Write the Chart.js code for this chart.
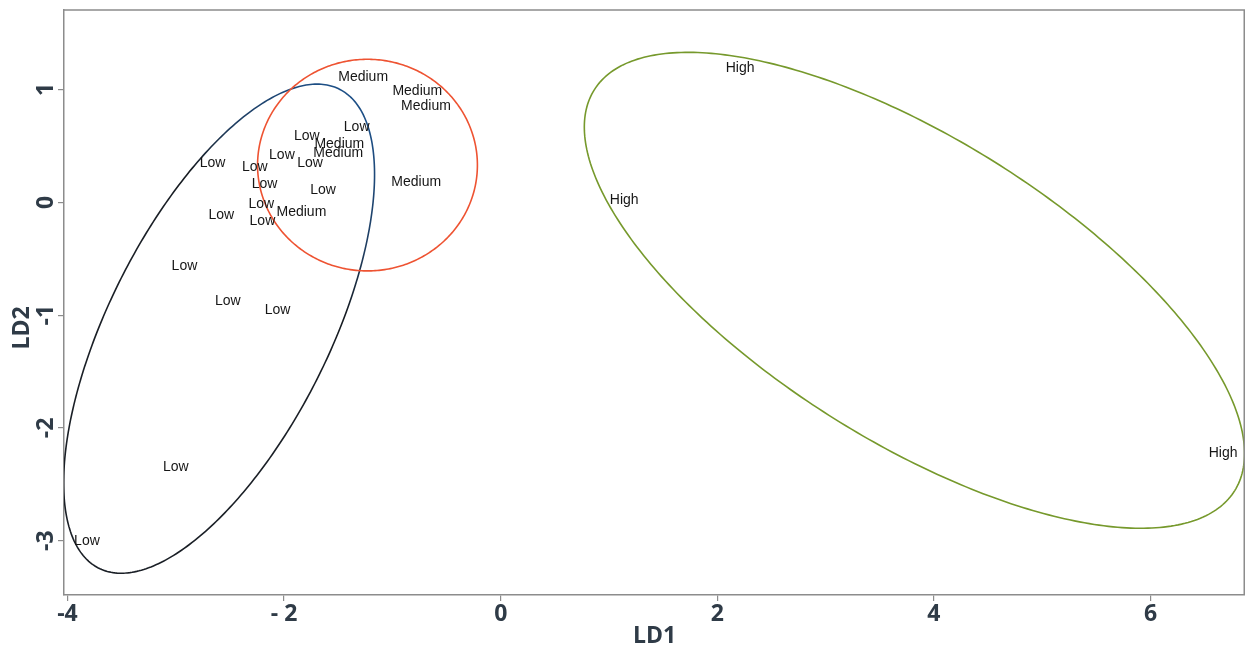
<!DOCTYPE html>
<html><head><meta charset="utf-8">
<script src="https://cdn.jsdelivr.net/npm/chart.js@4.4.0/dist/chart.umd.min.js"></script>
<style>html,body{margin:0;padding:0;background:#fff;overflow:hidden}</style>
</head><body>
<canvas id="c" width="1245" height="650"></canvas>
<script>
// ---- data ----
const lowX = [-1.79, -1.33, -2.02, -1.76, -2.66, -2.27, -2.18, -1.64, -2.21, -2.58, -2.20, -2.92, -2.52, -2.06, -3.00, -3.82];
const lowY = [0.59, 0.67, 0.42, 0.35, 0.35, 0.31, 0.16, 0.11, -0.02, -0.11, -0.17, -0.57, -0.88, -0.96, -2.35, -3.00];
const mediumX = [-1.27, -0.77, -0.69, -1.49, -1.50, -0.78, -1.84];
const mediumY = [1.11, 0.99, 0.85, 0.52, 0.44, 0.18, -0.09];
const highX = [2.21, 1.14, 6.67];
const highY = [1.19, 0.02, -2.22];
// ellipses: [centerX, centerY, varX, covXY, varY]
const lowEllipse = [-2.60, -1.12, 2.06, 1.96, 4.70];
const mediumEllipse = [-1.23, 0.33, 1.03, 0.0, 0.88];
const highEllipse = [3.82, -0.78, 9.29, -4.41, 4.45];
const xTickValues = [-4, -2, 0, 2, 4, 6];
const xTickLabels = ['-4', '- 2', '0', '2', '4', '6'];
const yTickValues = [-3, -2, -1, 0, 1];
const yTickLabels = ['-3', '-2', '-1', '0', '1'];
const xTitle = 'LD1';
const yTitle = 'LD2';

const pts = (xs, ys) => xs.map((x, i) => ({x: x, y: ys[i]}));
const axisGray = '#8c8c8c';
const tickColor = '#2f3b47';
const tickFont = {family: 'Open Sans', weight: 'bold', size: 23};

const ellipsePlugin = {
  id: 'ellipses',
  afterDatasetsDraw(chart) {
    const {ctx, chartArea: a, scales: {x: xs, y: ys}} = chart;
    const list = [
      {e: lowEllipse, color: 'low'},
      {e: mediumEllipse, color: '#ee5332'},
      {e: highEllipse, color: '#76992c'}
    ];
    ctx.save();
    ctx.beginPath();
    ctx.rect(a.left, a.top, a.right - a.left, a.bottom - a.top);
    ctx.clip();
    list.forEach(item => {
      const [cx, cy, sa, sb, sd] = item.e;
      const ux = Math.sqrt(sa), uy = sb / ux;
      const vy = Math.sqrt(Math.max(sd - sb * sb / sa, 0));
      ctx.beginPath();
      const n = 360;
      for (let k = 0; k <= n; k++) {
        const t = k / n * Math.PI * 2;
        const px = xs.getPixelForValue(cx + ux * Math.cos(t));
        const py = ys.getPixelForValue(cy + uy * Math.cos(t) + vy * Math.sin(t));
        if (k === 0) ctx.moveTo(px, py); else ctx.lineTo(px, py);
      }
      ctx.closePath();
      if (item.color === 'low') {
        const g = ctx.createLinearGradient(340, 100, 200, 250);
        g.addColorStop(0, '#1d4f86');
        g.addColorStop(0.45, '#1f3d60');
        g.addColorStop(0.75, '#151a20');
        g.addColorStop(1, '#1a1f26');
        ctx.strokeStyle = g;
      } else {
        ctx.strokeStyle = item.color;
      }
      ctx.lineWidth = 1.6;
      ctx.stroke();
    });
    ctx.restore();
  }
};

const labelPlugin = {
  id: 'pointLabels',
  afterDatasetsDraw(chart) {
    const ctx = chart.ctx;
    ctx.save();
    ctx.font = '14px "Liberation Sans", Arial, sans-serif';
    ctx.fillStyle = '#161616';
    ctx.textAlign = 'center';
    ctx.textBaseline = 'middle';
    chart.data.datasets.forEach((ds, di) => {
      const meta = chart.getDatasetMeta(di);
      meta.data.forEach(el => ctx.fillText(ds.label, el.x, el.y));
    });
    ctx.restore();
  }
};

const framePlugin = {
  id: 'frame',
  afterDraw(chart) {
    const {ctx, chartArea: a, scales: {y: ys}} = chart;
    ctx.save();
    ctx.strokeStyle = axisGray;
    ctx.lineWidth = 1.5;
    ctx.beginPath();
    ctx.moveTo(a.left, a.top);
    ctx.lineTo(a.right - 0.75, a.top);
    ctx.lineTo(a.right - 0.75, a.bottom);
    ctx.stroke();
    // y tick labels (rotated)
    ctx.fillStyle = tickColor;
    ctx.font = 'bold 23px "Open Sans"';
    ctx.textAlign = 'center';
    ctx.textBaseline = 'middle';
    ys.ticks.forEach(t => {
      const idx = yTickValues.indexOf(t.value);
      if (idx < 0) return;
      const py = ys.getPixelForValue(t.value);
      ctx.save();
      ctx.translate(46, py);
      ctx.rotate(-Math.PI / 2);
      ctx.fillText(yTickLabels[idx], 0, 0);
      ctx.restore();
    });
    // y title
    ctx.save();
    ctx.translate(22, 328);
    ctx.rotate(-Math.PI / 2);
    ctx.fillText(yTitle, 0, 0);
    ctx.restore();
    ctx.restore();
  }
};

new Chart(document.getElementById('c'), {
  type: 'scatter',
  data: {
    datasets: [
      {label: 'Low', data: pts(lowX, lowY), pointRadius: 0, pointHoverRadius: 0},
      {label: 'Medium', data: pts(mediumX, mediumY), pointRadius: 0, pointHoverRadius: 0},
      {label: 'High', data: pts(highX, highY), pointRadius: 0, pointHoverRadius: 0}
    ]
  },
  options: {
    responsive: false,
    animation: false,
    events: [],
    layout: {padding: {top: 10, left: 0, right: 0, bottom: 0}},
    plugins: {legend: {display: false}, tooltip: {enabled: false}},
    scales: {
      x: {
        type: 'linear',
        min: -4.032, max: 6.872,
        afterFit: s => { s.height = 55; },
        border: {display: true, color: axisGray, width: 1.5},
        grid: {display: true, drawOnChartArea: false, drawTicks: true, tickLength: 6, color: axisGray, lineWidth: 1.2},
        ticks: {
          stepSize: 2, includeBounds: false, color: tickColor, font: tickFont, padding: 0,
          maxRotation: 0, autoSkip: false,
          callback: v => { const i = xTickValues.indexOf(v); return i < 0 ? '' : xTickLabels[i]; }
        },
        title: {display: true, text: xTitle, color: tickColor, font: tickFont, padding: {top: 0, bottom: 0}}
      },
      y: {
        type: 'linear',
        min: -3.481, max: 1.705,
        afterFit: s => { s.width = 64; },
        border: {display: true, color: axisGray, width: 1.5},
        grid: {display: true, drawOnChartArea: false, drawTicks: true, tickLength: 6, color: axisGray, lineWidth: 1.2},
        ticks: {stepSize: 1, includeBounds: false, display: false}
      }
    }
  },
  plugins: [ellipsePlugin, labelPlugin, framePlugin]
});
</script>
</body></html>
